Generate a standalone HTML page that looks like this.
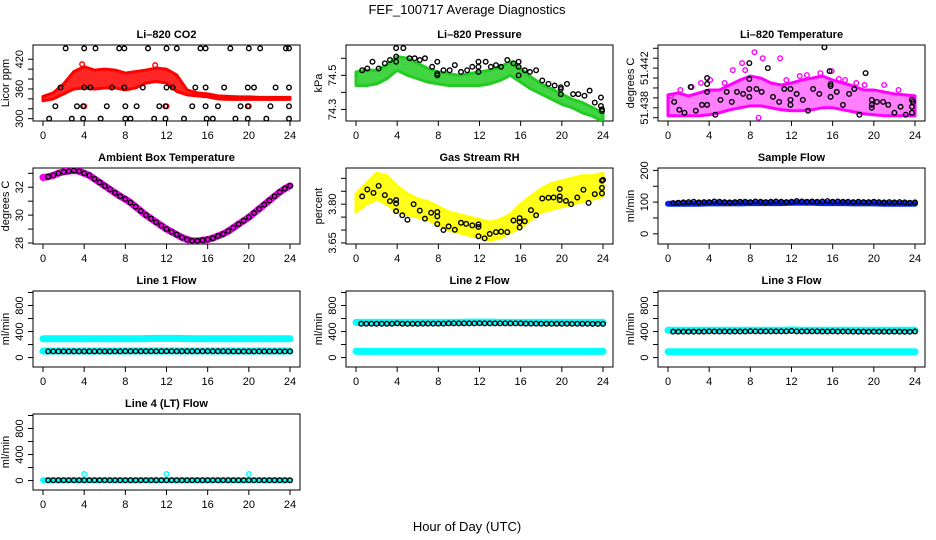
<!DOCTYPE html>
<html><head><meta charset="utf-8">
<style>
html,body{margin:0;padding:0;background:#fff;}
svg{display:block;font-family:"Liberation Sans",sans-serif;}
</style></head>
<body>
<svg id="chart" width="936" height="540" viewBox="0 0 936 540" xmlns="http://www.w3.org/2000/svg">
<rect width="936" height="540" fill="#fff"/>
<text x="467" y="14" font-size="13" text-anchor="middle">FEF_100717  Average Diagnostics</text>
<text x="467" y="531" font-size="13" text-anchor="middle">Hour of Day (UTC)</text>
</svg>
<script>
// ---- data ----
const hours = [0,1,2,3,4,5,6,7,8,9,10,11,12,13,14,15,16,17,18,19,20,21,22,23,24];
const halfHours = [0,0.5,1,1.5,2,2.5,3,3.5,4,4.5,5,5.5,6,6.5,7,7.5,8,8.5,9,9.5,10,10.5,11,11.5,12,12.5,13,13.5,14,14.5,15,15.5,16,16.5,17,17.5,18,18.5,19,19.5,20,20.5,21,21.5,22,22.5,23,23.5,24];
const xTicks = [0,4,8,12,16,20,24];

const co2Low = [336,340,350,360,362,360,362,362,358,362,372,375,372,355,348,346,344,340,339,339,339,339,339,339,339];
const co2High = [345,352,370,395,405,398,400,398,392,395,398,402,400,388,358,352,350,346,345,344,344,343,343,343,343];
const co2BlackX = [2.2,4,5.1,7.4,7.9,10.2,12,13,15.3,15.8,18.2,20,21.1,23.6,23.9, 1.7,4,4.6,6.7,7.9,9.7,12,12.6,14.8,15.8,17.6,19.9,20.5,22.6,23.9, 1.2,3.3,3.9,6.2,8,9.1,11.3,11.9,14.5,15.8,17,19.2,19.9,22.1,23.9, 0.6,2.8,3.9,5.6,8,8.5,10.8,11.9,13.7,15.9,16.5,18.7,19.9,21.7,23.9];
const co2BlackY = [442,442,442,442,442,442,442,442,442,442,442,442,442,442,442, 363,363,363,363,363,363,363,363,363,363,363,363,363,363,363, 325,325,325,325,325,325,325,325,325,325,325,325,325,325,325, 300,300,300,300,300,300,300,300,300,300,300,300,300,300,300];
const co2RedX = [4,12,20,3.8,10.9];
const co2RedY = [325,325,325,410,408];

const presLow = [74.44,74.44,74.45,74.48,74.53,74.5,74.48,74.46,74.45,74.44,74.44,74.44,74.44,74.45,74.47,74.5,74.46,74.42,74.39,74.36,74.33,74.31,74.28,74.26,74.23];
const presHigh = [74.52,74.53,74.53,74.56,74.61,74.6,74.57,74.54,74.52,74.51,74.5,74.51,74.52,74.53,74.55,74.58,74.54,74.49,74.45,74.42,74.39,74.36,74.34,74.31,74.28];
const presBlackX = [0.6,1.1,1.6,2.2,2.8,3.3,3.9,3.9,3.9,4.6,5.2,5.7,6.2,6.7,7.4,7.9,7.9,7.9,8.5,9.1,9.6,10.2,10.8,11.3,11.9,11.9,11.9,12.6,13.1,13.6,14.1,14.7,15.3,15.8,15.8,15.8,16.4,16.9,17.5,18.1,18.7,19.3,19.9,19.9,19.9,20.5,21.1,21.6,22.2,22.7,23.2,23.8,23.8,23.9,23.9];
const presBlackY = [74.53,74.54,74.58,74.54,74.57,74.59,74.61,74.58,74.66,74.66,74.6,74.6,74.59,74.6,74.55,74.58,74.5,74.51,74.53,74.53,74.56,74.52,74.53,74.55,74.55,74.58,74.52,74.58,74.55,74.56,74.55,74.59,74.57,74.58,74.55,74.5,74.53,74.52,74.53,74.47,74.45,74.44,74.42,74.43,74.39,74.45,74.39,74.39,74.38,74.41,74.34,74.37,74.32,74.3,74.29];

const tempLow = [51.4372,51.4372,51.4372,51.4372,51.4373,51.4375,51.4378,51.438,51.4382,51.4382,51.438,51.4378,51.4377,51.4377,51.4378,51.438,51.438,51.4378,51.4376,51.4374,51.4373,51.4372,51.4372,51.4372,51.4372];
const tempHigh = [51.4393,51.4395,51.4392,51.4395,51.4398,51.4398,51.4403,51.4408,51.4412,51.441,51.4405,51.4403,51.4405,51.4408,51.441,51.4412,51.4408,51.4405,51.4402,51.4398,51.4398,51.4396,51.4394,51.4393,51.4392];
const tempMagX = [8.4,9.2,10.9,7.2,7.5,6.3,3.2,15.9,14.8,8.8,5.5,12.8,17.2,19.1,21,1.2,2.3,4.1,13.5,16.6,22.4,0.3,18.3,11.5];
const tempMagY = [51.4436,51.443,51.443,51.4425,51.4418,51.4418,51.4405,51.4417,51.4415,51.437,51.4405,51.4412,51.4408,51.4403,51.4403,51.4398,51.4401,51.4408,51.4413,51.4409,51.4398,51.4392,51.4405,51.4408];
const tempBlackX = [0.6,1.1,1.6,2.2,2.7,3.3,3.8,3.8,3.8,3.8,4.6,5.1,5.7,6.2,6.7,7.3,7.9,7.9,7.9,7.9,8.6,9.1,9.7,10.2,10.8,11.3,11.9,11.9,11.9,12.5,13.1,13.6,14.1,14.7,15.2,15.7,15.8,15.8,15.8,16.4,17,17.6,18.1,18.6,19.2,19.8,19.8,19.8,20.3,20.9,21.4,22,22.6,23.1,23.7,23.7,23.7,23.8];
const tempBlackY = [51.4386,51.4378,51.4375,51.4401,51.4377,51.4383,51.441,51.4404,51.4396,51.4383,51.4373,51.4388,51.4396,51.4386,51.4396,51.4394,51.4425,51.4409,51.4399,51.4391,51.4399,51.4396,51.442,51.4391,51.4386,51.4399,51.4399,51.4388,51.4383,51.4394,51.4388,51.4377,51.4399,51.4394,51.4441,51.4417,51.4404,51.4402,51.4391,51.4396,51.4383,51.4394,51.4399,51.4373,51.4415,51.4388,51.4383,51.438,51.4386,51.4386,51.4383,51.4375,51.4381,51.4373,51.4388,51.4381,51.4375,51.4386];

const ambient = [32.7,32.75,32.85,33.0,33.1,33.15,33.2,33.15,33.0,32.85,32.6,32.35,32.1,31.85,31.6,31.35,31.15,30.9,30.6,30.3,30.0,29.75,29.5,29.25,29.0,28.8,28.6,28.4,28.25,28.15,28.15,28.2,28.25,28.35,28.5,28.65,28.85,29.1,29.35,29.6,29.85,30.15,30.45,30.75,31.05,31.35,31.65,31.9,32.1];

const rhLow = [3.77,3.80,3.82,3.80,3.77,3.76,3.75,3.74,3.72,3.70,3.69,3.68,3.67,3.66,3.67,3.69,3.71,3.74,3.77,3.78,3.79,3.80,3.81,3.82,3.83];
const rhHigh = [3.84,3.88,3.92,3.91,3.87,3.84,3.82,3.81,3.79,3.77,3.76,3.75,3.74,3.73,3.74,3.76,3.80,3.83,3.86,3.88,3.89,3.90,3.91,3.91,3.92];
const rhBlackX = [0.6,1.1,1.7,2.2,2.8,3.3,3.9,3.9,3.9,4.5,5.0,5.6,6.2,6.7,7.3,7.9,7.9,7.9,8.5,9.0,9.6,10.2,10.7,11.3,11.9,11.9,11.9,12.5,13.0,13.6,14.1,14.7,15.3,15.9,15.9,15.9,16.4,17,17.5,18.1,18.7,19.2,19.8,19.8,19.8,20.4,20.9,21.5,22.1,22.6,23.2,23.9,23.9,23.9,24];
const rhBlackY = [3.83,3.857,3.844,3.871,3.835,3.812,3.816,3.803,3.773,3.757,3.74,3.80,3.775,3.744,3.767,3.77,3.753,3.723,3.70,3.714,3.701,3.728,3.724,3.718,3.722,3.712,3.676,3.668,3.685,3.692,3.694,3.692,3.737,3.746,3.731,3.71,3.734,3.777,3.757,3.822,3.825,3.826,3.83,3.816,3.859,3.813,3.80,3.826,3.856,3.805,3.839,3.842,3.863,3.891,3.894];

const sampleBlue = [95,95,95,95,96,96,96,96,97,97,97,97,98,98,98,97,97,97,96,96,96,95,95,95,95];
const sampleBlack = [97,98,99,100,101,99,100,100,102,101,100,99,100,101,101,100,102,101,100,101,102,101,100,101,103,102,101,102,101,102,103,101,102,101,101,100,101,100,100,101,100,99,100,99,100,99,98,99,99];

const line1CyanHigh = [290,290,290,290,290,290,290,290,290,290,292,295,295,295,292,290,290,290,290,290,290,290,290,290,290];
const line1CyanLow = [100,100,100,100,100,100,100,100,100,100,100,100,100,100,100,100,100,100,100,100,100,100,100,100,100];
const line1Black = [95,95,95,95,95,95,95,95,96,96,96,96,96,96,96,96,97,97,97,97,97,97,97,97,98,97,97,97,97,97,97,97,98,97,97,97,96,96,96,96,96,96,96,96,95,95,95,95,95];

const line2CyanHigh = [540,540,540,540,540,540,540,540,540,540,540,545,545,545,540,540,540,540,540,540,540,540,540,540,540];
const line2CyanLow = [95,95,95,95,95,95,95,95,95,95,95,95,95,95,95,95,95,95,95,95,95,95,95,95,95];
const line2Black = [520,520,520,520,520,520,520,520,525,520,520,520,520,522,522,522,522,522,525,525,525,525,525,525,528,525,525,525,525,525,525,525,525,522,522,522,520,520,520,520,520,520,520,520,520,520,518,518,518];

const line3CyanHigh = [420,420,420,420,420,420,420,420,420,420,420,420,425,420,420,420,420,420,420,420,420,420,420,420,420];
const line3CyanLow = [90,90,90,90,90,90,90,90,90,90,90,90,90,90,90,90,90,90,90,90,90,90,90,90,90];
const line3Black = [398,398,398,398,398,398,398,398,402,400,400,400,400,400,400,400,405,402,402,402,402,402,402,402,408,402,402,402,402,402,400,400,402,400,400,400,398,398,398,398,398,398,398,398,398,398,396,396,400];

const line4Cyan = [5,5,5,5,5,5,5,5,5,5,5,5,5,5,5,5,5,5,5,5,5,5,5,5,5];
const line4CyanSpikeX = [4,12,20];
const line4CyanSpikeY = [100,100,100];
const line4Black = [5,5,5,5,5,5,5,5,5,5,5,5,5,5,5,5,5,5,5,5,5,5,5,5,5,5,5,5,5,5,5,5,5,5,5,5,5,5,5,5,5,5,5,5,5,5,5,5,5];

// ---- layout ----
const svg = document.getElementById('chart');
const NS = 'http://www.w3.org/2000/svg';
const colLeft = [33,346,658];
const rowTop = [45,168,291,414];
const W = 267, H = 76;

function mk(tag, attrs, parent){
  const e = document.createElementNS(NS, tag);
  for (const k in attrs) e.setAttribute(k, attrs[k]);
  (parent||svg).appendChild(e);
  return e;
}

function panel(col,row,name,title,ylab,ymin,ymax,yticks,ylabels){
  const L = colLeft[col], T = rowTop[row];
  const g = mk('g',{});
  
  
  const sx = x => L + 10 + x*(247/24);
  const sy = v => T + H - (v - ymin)/(ymax - ymin)*H;
  const t = mk('text',{x:L+W/2,y:T-7,'font-size':11,'font-weight':'bold','text-anchor':'middle'},g);
  t.textContent = title;
  
  
  const box = mk('rect',{x:L,y:T,width:W,height:H,fill:'none',stroke:'#000','stroke-width':1},g);
  
  
  const xa = mk('g',{},g);
  
  
  mk('line',{x1:sx(0),x2:sx(24),y1:T+H,y2:T+H,stroke:'#000'},xa);
  xTicks.forEach(v=>{
    mk('line',{x1:sx(v),x2:sx(v),y1:T+H,y2:T+H+5,stroke:'#000'},xa);
    const tl = mk('text',{x:sx(v),y:T+H+18,'font-size':11,'text-anchor':'middle'},xa);
    tl.textContent = v;
    
    
  });
  const ya = mk('g',{},g);
  
  
  mk('line',{x1:L,x2:L,y1:sy(yticks[0]),y2:sy(yticks[yticks.length-1]),stroke:'#000'},ya);
  yticks.forEach(v=>{
    mk('line',{x1:L-5,x2:L,y1:sy(v),y2:sy(v),stroke:'#000'},ya);
  });
  ylabels.forEach(v=>{
    const tx = L-10, ty = sy(v);
    const tl = mk('text',{x:tx,y:ty,'font-size':11,'text-anchor':'middle',transform:`rotate(-90 ${tx} ${ty})`},ya);
    tl.textContent = v;
    
    
  });
  const yl = mk('text',{x:L-24,y:T+H/2,'font-size':11,'text-anchor':'middle',transform:`rotate(-90 ${L-24} ${T+H/2})`},g);
  yl.textContent = ylab;
  
  
  const clip = 'clip-' + name;
  const cp = mk('clipPath',{id:clip},g);
  mk('rect',{x:L,y:T,width:W,height:H},cp);
  const plot = mk('g',{'clip-path':`url(#${clip})`},g);
  
  
  return {sx,sy,plot};
}

function band(p,xs,lo,hi,color,name,op){
  let d = '';
  xs.forEach((x,i)=>{ d += (i?'L':'M') + p.sx(x) + ' ' + p.sy(hi[i]); });
  for (let i=xs.length-1;i>=0;i--) d += 'L' + p.sx(xs[i]) + ' ' + p.sy(lo[i]);
  const e = mk('path',{d:d+'Z',fill:color,'fill-opacity':op||1,stroke:color,'stroke-width':3,'stroke-linejoin':'round'},p.plot);
  
  
}
function line(p,xs,ys,color,w,name){
  const pts = xs.map((x,i)=>p.sx(x)+','+p.sy(ys[i])).join(' ');
  const e = mk('polyline',{points:pts,fill:'none',stroke:color,'stroke-width':w,'stroke-linejoin':'round','stroke-linecap':'round'},p.plot);
  
  
}
function pts(p,xs,ys,color,name){
  const g = mk('g',{},p.plot);
  
  
  xs.forEach((x,i)=>{
    const c = mk('circle',{cx:p.sx(x),cy:p.sy(ys[i]),r:2.3,fill:'none',stroke:color,'stroke-width':1.4},g);
    
    
  });
}

let p = panel(0,0,'co2','Li\u2013820 CO2','Licor ppm',295.3,448.7,[300,320,340,360,380,400,420],[300,360,420]);
band(p,hours,co2Low,co2High,'#ff0000','co2-red-band',0.85);
pts(p,co2RedX,co2RedY,'#ff0000','co2-red-outliers');
pts(p,co2BlackX,co2BlackY,'#000','co2-black-points');

p = panel(1,0,'pressure','Li\u2013820 Pressure','kPa',74.232,74.678,[74.3,74.4,74.5,74.6],[74.3,74.5]);
band(p,hours,presLow,presHigh,'#22cc22','pressure-green-band',0.85);
pts(p,presBlackX,presBlackY,'#000','pressure-black-points');

p = panel(2,0,'li820-temp','Li\u2013820 Temperature','degrees C',51.43667,51.44433,[51.437,51.438,51.439,51.44,51.441,51.442,51.443,51.444],['51.438','51.442']);
band(p,hours,tempLow,tempHigh,'#ff00ff','temp-magenta-band',0.5);
pts(p,tempMagX,tempMagY,'#ff00ff','temp-magenta-outliers');
pts(p,tempBlackX,tempBlackY,'#000','temp-black-points');

p = panel(0,1,'ambient','Ambient Box Temperature','degrees C',27.93,33.38,[28,29,30,31,32,33],[28,30,32]);
line(p,halfHours,ambient,'#ee00ee',7,'ambient-magenta-line');
pts(p,halfHours.slice(1),ambient.slice(1),'#000','ambient-black-points');

p = panel(1,1,'rh','Gas Stream RH','percent',3.646,3.94,[3.65,3.70,3.75,3.80,3.85,3.90],['3.65','3.80']);
band(p,hours,rhLow,rhHigh,'#ffff00','rh-yellow-band',0.9);
pts(p,rhBlackX,rhBlackY,'#000','rh-black-points');

p = panel(2,1,'sample-flow','Sample Flow','ml/min',-32,207.5,[0,50,100,150,200],[0,100,200]);
line(p,hours,sampleBlue,'#0022ee',6,'sample-blue-band');
pts(p,halfHours.slice(1),sampleBlack,'#000','sample-black-points');

const fTicks = [0,200,400,600,800,1000], fLabels = [0,400,800];
p = panel(0,2,'line1','Line 1 Flow','ml/min',-145,1023,fTicks,fLabels);
line(p,hours,line1CyanHigh,'#00ffff',7,'line1-cyan-high');
line(p,hours,line1CyanLow,'#00ffff',7,'line1-cyan-low');
pts(p,halfHours.slice(1),line1Black.slice(1),'#000','line1-black-points');
p = panel(1,2,'line2','Line 2 Flow','ml/min',-145,1023,fTicks,fLabels);
line(p,hours,line2CyanHigh,'#00ffff',7,'line2-cyan-high');
line(p,hours,line2CyanLow,'#00ffff',7,'line2-cyan-low');
pts(p,halfHours.slice(1),line2Black.slice(1),'#000','line2-black-points');
p = panel(2,2,'line3','Line 3 Flow','ml/min',-145,1023,fTicks,fLabels);
line(p,hours,line3CyanHigh,'#00ffff',7,'line3-cyan-high');
line(p,hours,line3CyanLow,'#00ffff',7,'line3-cyan-low');
pts(p,halfHours.slice(1),line3Black.slice(1),'#000','line3-black-points');
p = panel(0,3,'line4','Line 4 (LT) Flow','ml/min',-145,1023,fTicks,fLabels);
line(p,hours,line4Cyan,'#00ffff',6,'line4-cyan-line');
pts(p,line4CyanSpikeX,line4CyanSpikeY,'#00ffff','line4-cyan-spikes');
pts(p,halfHours.slice(1),line4Black.slice(1),'#000','line4-black-points');
</script>
</body></html>
